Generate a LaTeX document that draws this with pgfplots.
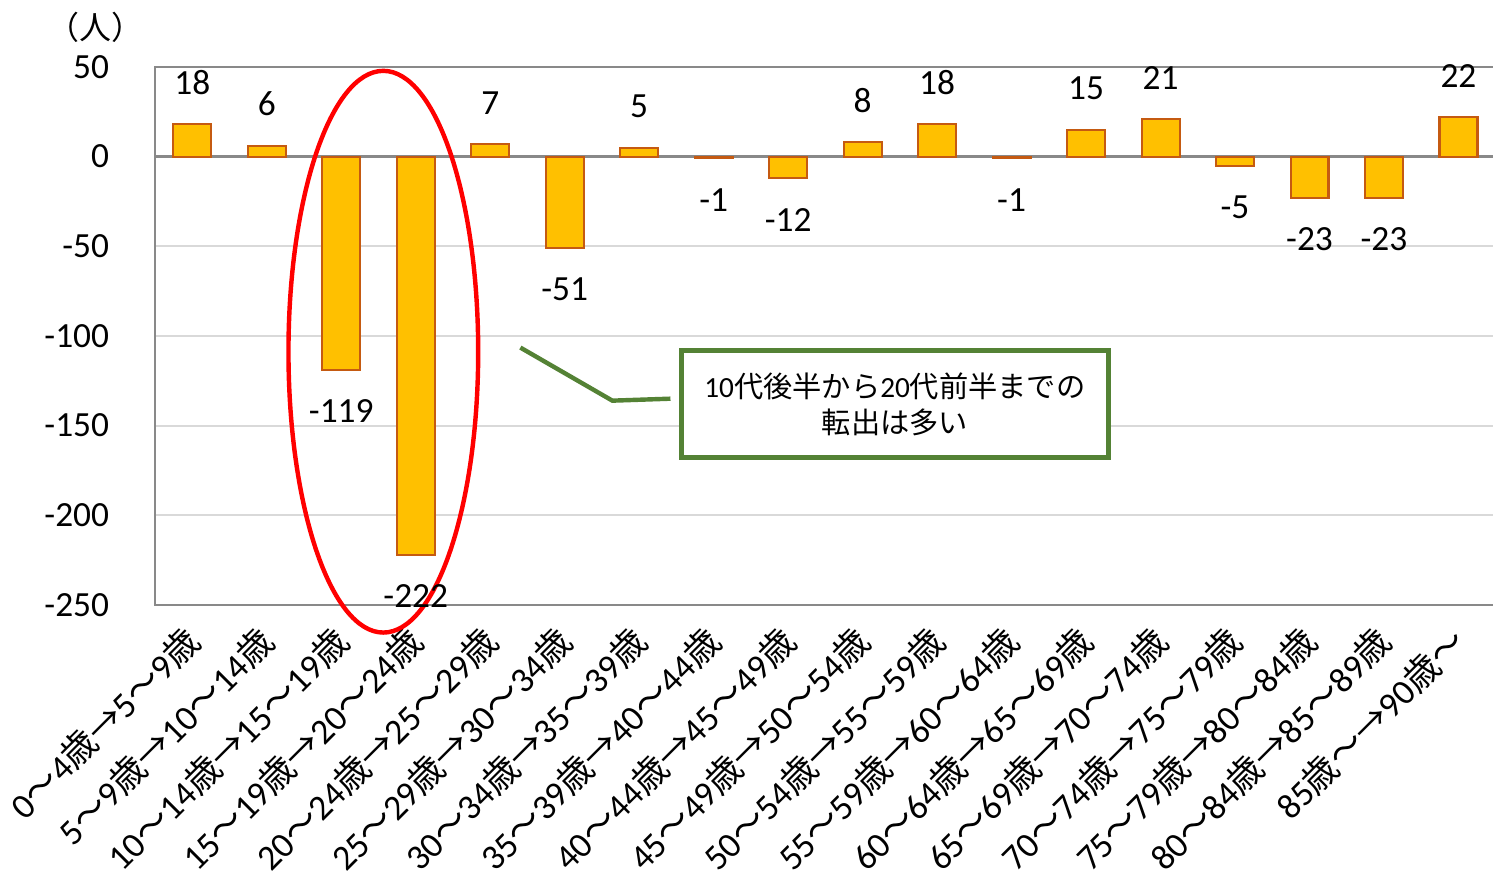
\documentclass[border=0pt]{standalone}
\usepackage{fontspec}
\usepackage{pgfplots}
\pgfplotsset{compat=1.18}
\setmainfont{Carlito}
\newfontfamily\cjk{Noto Sans CJK JP}
\newcommand\J[1]{{\cjk #1}}
\newcommand\AGE[4]{#1\J{～}#2\J{歳→}#3\J{～}#4\J{歳}}
\definecolor{barfill}{HTML}{FFC000}
\definecolor{baredge}{HTML}{C55A11}
\definecolor{axisgray}{HTML}{898989}
\definecolor{gridgray}{HTML}{D9D9D9}
\definecolor{boxgreen}{HTML}{548235}

\begin{document}
\begin{tikzpicture}
\begin{axis}[
  at={(0,0)}, anchor=south west,
  scale only axis, width=394.3pt, height=158.2pt,
  xmin=-0.5, xmax=17.5, ymin=-250, ymax=50,
  ytick={-250,-200,...,50},
  xtick={0,...,17},
  xticklabels={
    {\AGE{0}{4}{5}{9}},{\AGE{5}{9}{10}{14}},{\AGE{10}{14}{15}{19}},
    {\AGE{15}{19}{20}{24}},{\AGE{20}{24}{25}{29}},{\AGE{25}{29}{30}{34}},
    {\AGE{30}{34}{35}{39}},{\AGE{35}{39}{40}{44}},{\AGE{40}{44}{45}{49}},
    {\AGE{45}{49}{50}{54}},{\AGE{50}{54}{55}{59}},{\AGE{55}{59}{60}{64}},
    {\AGE{60}{64}{65}{69}},{\AGE{65}{69}{70}{74}},{\AGE{70}{74}{75}{79}},
    {\AGE{75}{79}{80}{84}},{\AGE{80}{84}{85}{89}},
    {85\J{歳～→}90\J{歳～}}},
  ybar, bar width=0.51,
  axis line style={draw=axisgray, line width=0.8pt},
  ymajorgrids, grid style={gridgray, line width=0.6pt},
  extra y ticks={0}, extra y tick labels={},
  extra y tick style={grid style={axisgray, line width=0.8pt}},
  major tick length=0,
  /pgf/number format/assume math mode=true,
  tick label style={font=\fontsize{10.4}{12}\selectfont},
  yticklabel style={xshift=-10pt},
  xticklabel style={rotate=45, anchor=north east, font=\fontsize{10.5}{12}\selectfont, inner sep=1pt, xshift=-4.9pt, yshift=-0.3pt},
  nodes near coords,
  nodes near coords style={font=\fontsize{10.4}{12}\selectfont, inner ysep=8.5pt},
  clip=false,
]
\addplot[fill=barfill, draw=baredge, line width=0.6pt] coordinates {
  (0,18) (1,6) (2,-119) (3,-222) (4,7) (5,-51) (6,5) (7,-1) (8,-12)
  (9,8) (10,18) (11,-1) (12,15) (13,21) (14,-5) (15,-23) (16,-23) (17,22)
};
% highlight around the two largest outflows
\draw[red, line width=1.3pt] (axis cs:2.565,-108.8) ellipse [x radius=27.9pt, y radius=82.6pt];
% callout
\draw[boxgreen, line width=1.3pt] (axis cs:4.405,-106.5) -- (axis cs:5.64,-136.1) -- (axis cs:6.42,-135);
\node[draw=boxgreen, line width=1.3pt, fill=white, minimum width=125.6pt, minimum height=31.5pt,
  align=center, font=\fontsize{8.6}{10.5}\selectfont, inner sep=2pt]
  at (axis cs:9.433,-138) {10\J{代後半から}20\J{代前半までの}\\\J{転出は多い}};
\node[font=\cjk\fontsize{9.4}{11}\selectfont] at ([xshift=-17.6pt, yshift=11.8pt]rel axis cs:0,1) {（人）};
\end{axis}
\pgfresetboundingbox
\useasboundingbox (-45.6pt,-78.5pt) rectangle (393.5pt,177.9pt);
\end{tikzpicture}
\end{document}
